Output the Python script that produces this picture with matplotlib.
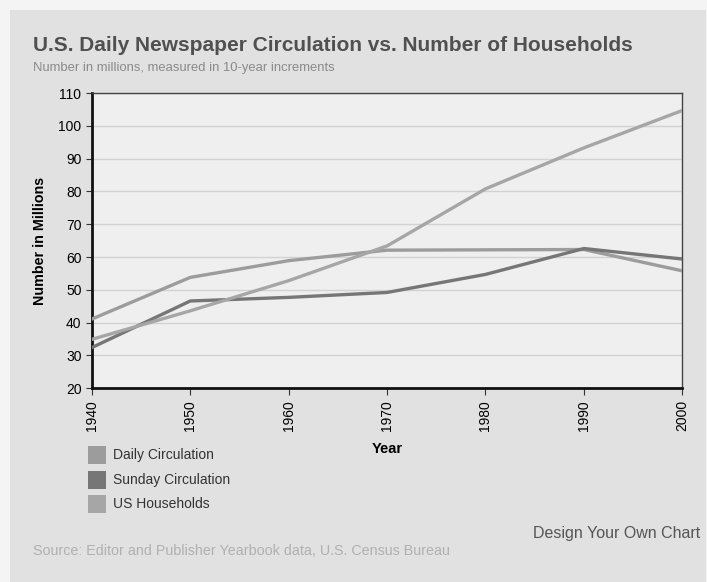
import matplotlib
matplotlib.use('Agg')
import matplotlib.pyplot as plt
from matplotlib.patches import Rectangle

years = [1940, 1950, 1960, 1970, 1980, 1990, 2000]
daily = [41.1, 53.8, 58.9, 62.1, 62.2, 62.3, 55.8]
sunday = [32.4, 46.6, 47.7, 49.2, 54.7, 62.6, 59.4]
households = [34.9, 43.6, 52.8, 63.4, 80.8, 93.3, 104.7]
series_names = ['Daily Circulation', 'Sunday Circulation', 'US Households']
series_colors = ['#9c9c9c', '#767676', '#a6a6a6']

plt.rcParams['font.family'] = ['Liberation Sans', 'DejaVu Sans']

fig = plt.figure(figsize=(7.07, 5.82), dpi=100)
fig.patch.set_facecolor('#f4f4f4')
# grey panel behind the chart
fig.patches.append(Rectangle((0.014, 0.0), 0.984, 0.982, transform=fig.transFigure,
                             facecolor='#e1e1e1', edgecolor='none', zorder=-5))

ax = fig.add_axes([0.130, 0.333, 0.835, 0.507])
ax.set_zorder(2)
ax.set_facecolor('#efefef')
for vals, name, col in zip([daily, sunday, households], series_names, series_colors):
    ax.plot(years, vals, color=col, lw=2.4, label=name, zorder=3)

ax.set_xlim(1940, 2000)
ax.set_ylim(20, 110)
ax.set_xticks(years)
ax.set_xticklabels([str(y) for y in years], rotation=90, fontsize=10)
ax.set_yticks(range(20, 111, 10))
ax.tick_params(axis='y', labelsize=10, length=4, color='#333333')
ax.tick_params(axis='x', length=5, color='#333333')
ax.grid(axis='y', color='#d2d2d2', lw=1)
ax.set_axisbelow(True)
for s in ['left', 'bottom']:
    ax.spines[s].set_linewidth(2)
    ax.spines[s].set_color('#111111')
for s in ['top', 'right']:
    ax.spines[s].set_linewidth(1)
    ax.spines[s].set_color('#444444')

ax.set_ylabel('Number in Millions', fontsize=10.3, fontweight='bold', labelpad=8)
ax.set_xlabel('Year', fontsize=10.5, fontweight='bold', labelpad=8)

fig.text(0.047, 0.922, 'U.S. Daily Newspaper Circulation vs. Number of Households',
         fontsize=15, color='#505050', fontweight='bold', va='center')
fig.text(0.047, 0.883, 'Number in millions, measured in 10-year increments',
         fontsize=9.4, color='#8a8a8a', va='center')

# legend swatches
for i, (name, col) in enumerate(zip(series_names, series_colors)):
    y0 = 1 - (446 + i * 24.5) / 582 - 0.031
    fig.patches.append(Rectangle((0.124, y0), 0.026, 0.031, transform=fig.transFigure,
                                 facecolor=col, edgecolor='none'))
    fig.text(0.160, y0 + 0.015, name, fontsize=10, color='#333333', va='center')

fig.text(0.990, 0.084, 'Design Your Own Chart', fontsize=11.5, color='#555555',
         ha='right', va='center')
fig.text(0.047, 0.053, 'Source: Editor and Publisher Yearbook data, U.S. Census Bureau',
         fontsize=10.3, color='#b0b0b0', va='center')

fig.savefig('out.png', dpi=100, facecolor=fig.get_facecolor())
